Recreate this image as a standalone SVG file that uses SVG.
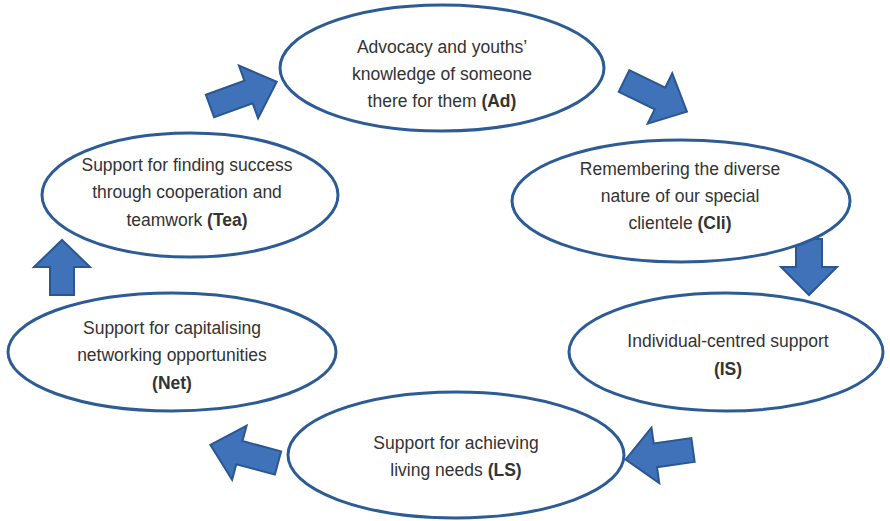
<svg xmlns="http://www.w3.org/2000/svg" width="890" height="521" viewBox="0 0 890 521">
  <style>
    .node ellipse { fill: #ffffff; stroke: #2c5b95; stroke-width: 3; }
    .node text { font-family: "Liberation Sans", Arial, sans-serif; font-size: 17.5px; fill: #333333; text-anchor: middle; }
    .node tspan.code { font-weight: bold; }
    .arrow { fill: #3f72b9; stroke: #2b5791; stroke-width: 2; stroke-linejoin: miter; }
  </style>
  <rect width="890" height="521" fill="#ffffff"/>

  <!-- block arrows between the stages -->
  <g id="connectors">
    <path class="arrow" transform="translate(210,106) rotate(-20)" d="M0,-12 L41,-12 L41,-28 L71,0 L41,28 L41,12 L0,12 Z"/>
    <path class="arrow" transform="translate(624,81) rotate(26)" d="M0,-12 L40,-12 L40,-28 L70,0 L40,28 L40,12 L0,12 Z"/>
    <path class="arrow" transform="translate(809,239) rotate(90)" d="M0,-13 L28,-13 L28,-28 L56,0 L28,28 L28,13 L0,13 Z"/>
    <path class="arrow" transform="translate(693,450) rotate(172)" d="M0,-12 L38,-12 L38,-28 L68,0 L38,28 L38,12 L0,12 Z"/>
    <path class="arrow" transform="translate(278,463) rotate(195)" d="M0,-12 L40,-12 L40,-28 L70,0 L40,28 L40,12 L0,12 Z"/>
    <path class="arrow" transform="translate(62,295) rotate(-90)" d="M0,-12 L28,-12 L28,-28 L55,0 L28,28 L28,12 L0,12 Z"/>
  </g>

  <g id="node-ad" class="node">
    <ellipse cx="442" cy="68" rx="162" ry="63"/>
    <text x="442" y="53">Advocacy and youths’</text>
    <text x="442" y="80">knowledge of someone</text>
    <text x="442" y="107">there for them <tspan class="code">(Ad)</tspan></text>
  </g>

  <g id="node-cli" class="node">
    <ellipse cx="681" cy="201" rx="169" ry="61"/>
    <text x="680" y="175">Remembering the diverse</text>
    <text x="680" y="202">nature of our special</text>
    <text x="680" y="229">clientele <tspan class="code">(Cli)</tspan></text>
  </g>

  <g id="node-is" class="node">
    <ellipse cx="726" cy="352" rx="157" ry="59"/>
    <text x="728" y="347">Individual-centred support</text>
    <text x="728" y="375"><tspan class="code">(IS)</tspan></text>
  </g>

  <g id="node-ls" class="node">
    <ellipse cx="456" cy="455" rx="168" ry="63"/>
    <text x="456" y="449">Support for achieving</text>
    <text x="456" y="476">living needs <tspan class="code">(LS)</tspan></text>
  </g>

  <g id="node-net" class="node">
    <ellipse cx="172" cy="352" rx="164" ry="59"/>
    <text x="172" y="334">Support for capitalising</text>
    <text x="172" y="361">networking opportunities</text>
    <text x="172" y="389"><tspan class="code">(Net)</tspan></text>
  </g>

  <g id="node-tea" class="node">
    <ellipse cx="190" cy="195" rx="148" ry="62"/>
    <text x="187" y="171">Support for finding success</text>
    <text x="187" y="198">through cooperation and</text>
    <text x="187" y="226">teamwork <tspan class="code">(Tea)</tspan></text>
  </g>
</svg>
